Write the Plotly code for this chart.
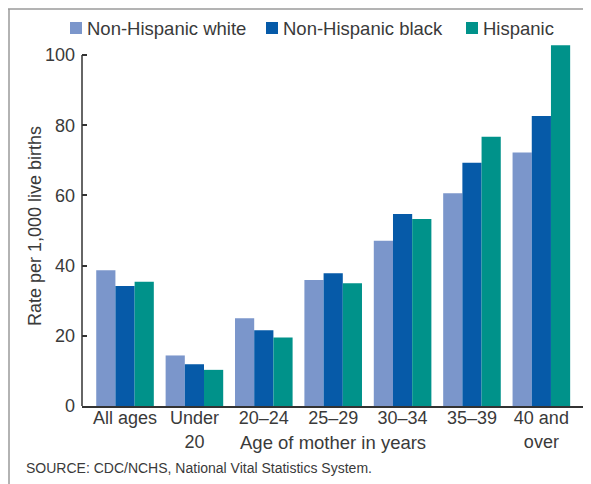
import plotly.graph_objects as go

categories = ["All ages", "Under<br>20", "20–24", "25–29", "30–34", "35–39", "40 and<br>over"]
series_names = ["Non-Hispanic white", "Non-Hispanic black", "Hispanic"]
white = [38.7, 14.4, 25.0, 35.9, 47.1, 60.6, 72.2]
black = [34.2, 11.9, 21.6, 37.8, 54.7, 69.3, 82.6]
hispanic = [35.4, 10.3, 19.5, 35.0, 53.3, 76.7, 102.8]
y_ticks = [0, 20, 40, 60, 80, 100]
colors = ["#7b96cb", "#065aa8", "#00928a"]

FONT = "Liberation Sans, Arial, sans-serif"
TXT = "#3a3a3a"

# page offset (body margin) is 8 px; plot area in page px: x 82-583, y 41-406
PW, PH = 501, 365
def px(xp):
    return (xp - 82) / PW
def py(yp):
    return (406 - yp) / PH

fig = go.Figure()
for name, vals, col in zip(series_names, [white, black, hispanic], colors):
    fig.add_trace(go.Bar(x=categories, y=vals, name=name, marker_color=col,
                         marker_line_width=0, showlegend=False))

fig.update_layout(
    width=583, height=476,
    margin=dict(l=74, r=8, t=33, b=78),
    paper_bgcolor="white", plot_bgcolor="white",
    barmode="group", bargap=0.17, bargroupgap=0,
    font=dict(family=FONT, size=18, color=TXT),
    xaxis=dict(range=[-0.62, 6.6], showline=True, linecolor="#333333", linewidth=1.5,
               ticks="", showgrid=False, zeroline=False, ticklabelstandoff=-5,
               automargin=False, tickfont=dict(size=18, color=TXT)),
    yaxis=dict(range=[0, 104], showline=False, tickvals=y_ticks, ticks="inside",
               ticklen=5, tickwidth=1.5, tickcolor="#333333", showgrid=False,
               zeroline=False, ticklabelstandoff=6, automargin=False,
               tickfont=dict(size=18, color=TXT)),
)

# y-axis line only up to top tick
fig.add_shape(type="line", xref="paper", yref="y", x0=0, x1=0, y0=0, y1=y_ticks[-1],
              line=dict(color="#333333", width=1.5))

# y-axis title
fig.add_annotation(text="Rate per 1,000 live births", xref="paper", yref="paper",
                   x=px(35), y=py(226), xanchor="center", yanchor="middle",
                   textangle=-90, showarrow=False, font=dict(size=18, color=TXT))

# x-axis title
fig.add_annotation(text="Age of mother in years", xref="paper", yref="paper",
                   x=0.5, y=py(442), xanchor="center", yanchor="middle",
                   showarrow=False, font=dict(size=18.5, color=TXT))

# source
fig.add_annotation(text="SOURCE: CDC/NCHS, National Vital Statistics System.",
                   xref="paper", yref="paper", x=px(24), y=py(468),
                   xanchor="left", yanchor="middle", showarrow=False,
                   font=dict(size=14, color=TXT))

# legend (manual)
leg_x = [70, 266, 466]
for name, col, lx in zip(series_names, colors, leg_x):
    fig.add_shape(type="rect", xref="paper", yref="paper", x0=px(lx), x1=px(lx + 12),
                  y0=py(34), y1=py(22), fillcolor=col, line=dict(width=0))
    fig.add_annotation(text=name, xref="paper", yref="paper",
                       x=px(lx + 15), y=py(28.5),
                       xanchor="left", yanchor="middle", showarrow=False,
                       font=dict(size=18.5, color=TXT))

# frame (top and left)
fig.add_shape(type="line", xref="paper", yref="paper",
              x0=px(8), x1=px(600), y0=py(9), y1=py(9),
              line=dict(color="#9a9a9a", width=1.5))
fig.add_shape(type="line", xref="paper", yref="paper",
              x0=px(9), x1=px(9), y0=py(9), y1=py(490),
              line=dict(color="#9a9a9a", width=1.5))

fig.write_html("out.html")
